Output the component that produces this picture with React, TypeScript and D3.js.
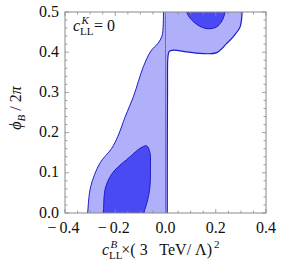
import React from "react";
import * as d3 from "d3";

// outer (light) region: left contour, bottom -> top
const outerLeftX = [-0.312, -0.310, -0.298, -0.261, -0.215, -0.190, -0.160, -0.128, -0.088, -0.058, -0.030, -0.014, -0.009, -0.008];
const outerLeftY = [-0.01, 0.0, 0.065, 0.124, 0.160, 0.190, 0.240, 0.289, 0.364, 0.403, 0.422, 0.440, 0.470, 0.51];
// outer (light) region: right contour, top -> bottom
const outerRightX = [0.306, 0.305, 0.297, 0.270, 0.244, 0.204, 0.137, 0.084, 0.031, 0.015, 0.010, 0.008, 0.007, 0.007];
const outerRightY = [0.51, 0.5, 0.463, 0.439, 0.422, 0.399, 0.397, 0.401, 0.405, 0.402, 0.390, 0.300, 0.0, -0.01];
// inner (dark) region near the bottom
const innerLowX = [-0.248, -0.247, -0.241, -0.225, -0.201, -0.141, -0.101, -0.075, -0.062, -0.060, -0.062, -0.072, -0.085, -0.086];
const innerLowY = [-0.01, 0.0, 0.057, 0.085, 0.107, 0.140, 0.161, 0.167, 0.150, 0.110, 0.065, 0.030, 0.002, -0.01];
// inner (dark) region at the top
const innerTopX = [0.083, 0.084, 0.095, 0.111, 0.135, 0.160, 0.185, 0.204, 0.222, 0.232, 0.237, 0.238];
const innerTopY = [0.51, 0.5, 0.487, 0.476, 0.465, 0.459, 0.459, 0.463, 0.475, 0.488, 0.5, 0.51];

const xTicks = [-0.4, -0.2, 0.0, 0.2, 0.4];
const yTicks = [0.0, 0.1, 0.2, 0.3, 0.4, 0.5];

const W = 283;
const H = 270;
const left = 65;
const right = 266;
const top = 12;
const bottom = 213;

const LIGHT = "#b0b0fa";
const DARK = "#4a4af5";
const EDGE = "#1c1cc8";
const FRAME = "#8a8a8a";

export default function App() {
  const x = d3.scaleLinear().domain([-0.4, 0.4]).range([left, right]);
  const y = d3.scaleLinear().domain([0, 0.5]).range([bottom, top]);

  const curve = (xs: number[], ys: number[]) =>
    d3
      .line<number>()
      .x((d, i) => x(xs[i]))
      .y((d, i) => y(ys[i]))
      .curve(d3.curveCatmullRom.alpha(0.5))(xs.map((_, i) => i)) as string;

  const outerPath =
    curve(outerLeftX, outerLeftY) + curve(outerRightX, outerRightY).replace(/^M/, "L") + "Z";
  const lowPath = curve(innerLowX, innerLowY) + "Z";
  const topPath = curve(innerTopX, innerTopY) + "Z";
  const leftEdge = curve(outerLeftX, outerLeftY);
  const rightEdge = curve(outerRightX, outerRightY);

  const xMinor = d3.range(-0.4, 0.4001, 0.05);
  const yMinor = d3.range(0, 0.5001, 0.02);
  const isMajor = (v: number, step: number) => Math.abs(v / step - Math.round(v / step)) < 1e-6;

  const font = "Liberation Serif";
  const fs = 16;
  const sub = 11;

  return (
    <div style={{ position: "absolute", left: 0, top: 0 }}>
      <svg width={W} height={H} style={{ display: "block", background: "#fff" }}>
        <defs>
          <clipPath id="plot">
            <rect x={left} y={top} width={right - left} height={bottom - top} />
          </clipPath>
        </defs>
        <g clipPath="url(#plot)">
          <path d={outerPath} fill={LIGHT} stroke="none" />
          <path d={lowPath} fill={DARK} stroke={EDGE} strokeWidth={1} />
          <path d={topPath} fill={DARK} stroke={EDGE} strokeWidth={1} />
          <path d={leftEdge} fill="none" stroke={EDGE} strokeWidth={1} />
          <path d={rightEdge} fill="none" stroke={EDGE} strokeWidth={1.2} />
          <line x1={x(0)} x2={x(0)} y1={top} y2={bottom} stroke="#777" strokeWidth={1} />
        </g>

        {/* frame ticks */}
        {xMinor.map((v, i) => {
          const len = isMajor(v, 0.2) ? 4 : 2.5;
          return (
            <g key={"xt" + i} stroke={FRAME} strokeWidth={0.8}>
              <line x1={x(v)} x2={x(v)} y1={bottom} y2={bottom - len} />
              <line x1={x(v)} x2={x(v)} y1={top} y2={top + len} />
            </g>
          );
        })}
        {yMinor.map((v, i) => {
          const len = isMajor(v, 0.1) ? 4 : 2.5;
          return (
            <g key={"yt" + i} stroke={FRAME} strokeWidth={0.8}>
              <line x1={left} x2={left + len} y1={y(v)} y2={y(v)} />
              <line x1={right} x2={right - len} y1={y(v)} y2={y(v)} />
            </g>
          );
        })}
        <rect x={left} y={top} width={right - left} height={bottom - top} fill="none" stroke={FRAME} strokeWidth={1} />

        <g style={{ fontFamily: font }} fill="#111">
          {/* tick labels */}
          {xTicks.map((v) => (
            <text key={"xl" + v} x={x(v) - (v < 0 ? 1.5 : 0)} y={bottom + 19.5} textAnchor="middle" fontSize={fs}>
              {v < 0 ? "\u2212\u2009" + Math.abs(v).toFixed(1) : v.toFixed(1)}
            </text>
          ))}
          {yTicks.map((v) => (
            <text key={"yl" + v} x={left - 6} y={y(v) + 4.5} textAnchor="end" fontSize={fs}>
              {v.toFixed(1)}
            </text>
          ))}

          {/* annotation */}
          <text x={73} y={31} fontSize={fs}>
            <tspan fontStyle="italic">c</tspan>
            <tspan fontSize={sub} dy={4}>LL</tspan>
            <tspan fontSize={sub} fontStyle="italic" dx={-12} dy={-11}>K</tspan>
            <tspan dx={5} dy={7}>= 0</tspan>
          </text>

          {/* x axis label */}
          <text x={102} y={255} fontSize={fs}>
            <tspan fontStyle="italic">c</tspan>
            <tspan fontSize={sub} dy={4}>LL</tspan>
            <tspan fontSize={sub} fontStyle="italic" dx={-12} dy={-11}>B</tspan>
            <tspan dx={4} dy={7}>{"\u00d7( 3\u2002 TeV/ \u039b)"}</tspan>
            <tspan fontSize={sub} dx={2} dy={-7}>2</tspan>
          </text>

          {/* y axis label */}
          <text transform="translate(21,108) rotate(-90)" textAnchor="middle" fontSize={fs}>
            <tspan fontStyle="italic">{"\u03d5"}</tspan>
            <tspan fontSize={sub} fontStyle="italic" dy={4}>B</tspan>
            <tspan dy={-4}>{" / 2"}</tspan>
            <tspan fontStyle="italic">{"\u03c0"}</tspan>
          </text>
        </g>
      </svg>
    </div>
  );
}
